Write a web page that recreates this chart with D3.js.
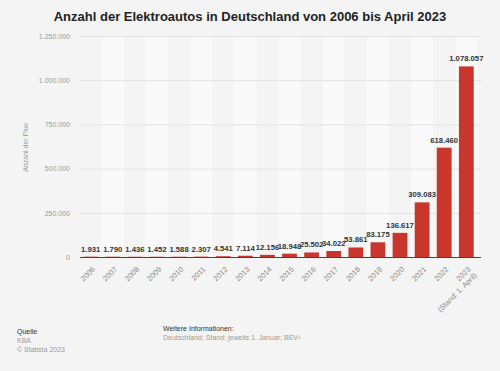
<!DOCTYPE html>
<html>
<head>
<meta charset="utf-8">
<script src="https://cdn.jsdelivr.net/npm/d3@7"></script>
<style>
  html, body { margin: 0; padding: 0; background: #f4f4f4; }
  svg { display: block; font-family: "Liberation Sans", Arial, sans-serif; }
</style>
</head>
<body>
<div id="chart"></div>
<script>
const years = ['2006', '2007', '2008', '2009', '2010', '2011', '2012', '2013', '2014',
  '2015', '2016', '2017', '2018', '2019', '2020', '2021', '2022', '2023'];
const cars = [1931, 1790, 1436, 1452, 1588, 2307, 4541, 7114, 12156,
  18948, 25502, 34022, 53861, 83175, 136617, 309083, 618460, 1078057];
const yTicks = [0, 250000, 500000, 750000, 1000000, 1250000];
const lastNote = '(Stand: 1. April)';

const width = 500, height = 371;
const m = { left: 76, right: 19, top: 36, bottom: 114 };

const de = d3.formatLocale({ decimal: ',', thousands: '.', grouping: [3], currency: ['', ' €'] });
const fmt = de.format(',d');

const svg = d3.select('#chart').append('svg')
  .attr('width', width)
  .attr('height', height);

svg.append('rect').attr('width', width).attr('height', height).attr('fill', '#f4f4f4');

const x = d3.scaleBand()
  .domain(years)
  .range([m.left, width - m.right])
  .padding(0.33);

const y = d3.scaleLinear()
  .domain([0, 1250000])
  .range([height - m.bottom, m.top]);

// alternating column shading
svg.append('g').selectAll('rect')
  .data(years.filter((_, i) => i % 2 === 1))
  .join('rect')
  .attr('x', d => x(d) - x.step() * x.paddingInner() / 2)
  .attr('y', m.top)
  .attr('width', x.step())
  .attr('height', y(0) - m.top)
  .attr('fill', '#f9f9f9');

// grid + y labels
const yAxis = d3.axisLeft(y)
  .tickValues(yTicks)
  .tickSize(-(width - m.right - m.left - 4))
  .tickPadding(10)
  .tickFormat(fmt);

const gY = svg.append('g')
  .attr('transform', `translate(${m.left + 4},0)`)
  .call(yAxis);
gY.select('.domain').remove();
gY.selectAll('line').attr('stroke', '#e2e2e2').attr('stroke-width', 1);
gY.selectAll('text').attr('fill', '#9a9a9a').attr('font-size', 7);

svg.append('text')
  .attr('transform', `translate(28,${(y(0) + m.top) / 2 + 1}) rotate(-90)`)
  .attr('text-anchor', 'middle')
  .attr('fill', '#9a9a9a')
  .attr('font-size', 7)
  .text('Anzahl der Pkw');

// bars
svg.append('g').selectAll('rect')
  .data(cars)
  .join('rect')
  .attr('x', (d, i) => x(years[i]))
  .attr('y', d => y(d))
  .attr('width', x.bandwidth())
  .attr('height', d => y(0) - y(d))
  .attr('fill', '#c9372c');

// value labels
svg.append('g').selectAll('text')
  .data(cars)
  .join('text')
  .attr('x', (d, i) => x(years[i]) + x.bandwidth() / 2)
  .attr('y', d => y(d) - 5)
  .attr('text-anchor', 'middle')
  .attr('font-size', 7.7)
  .attr('font-weight', 'bold')
  .attr('fill', '#333')
  .text(d => fmt(d));

// baseline
svg.append('line')
  .attr('x1', m.left + 4)
  .attr('x2', width - m.right)
  .attr('y1', y(0) + 0.5)
  .attr('y2', y(0) + 0.5)
  .attr('stroke', '#444')
  .attr('stroke-width', 1);

// x labels
const xl = svg.append('g').selectAll('text')
  .data(years)
  .join('text')
  .attr('transform', d => `translate(${x(d) + x.bandwidth() / 2 + 3},${y(0) + 11}) rotate(-45)`)
  .attr('text-anchor', 'end')
  .attr('font-size', 7.5)
  .attr('fill', '#8a8a8a');
xl.append('tspan').attr('x', 0).attr('dy', '0.35em').text(d => d);
xl.filter((d, i) => i === years.length - 1)
  .append('tspan').attr('x', 0).attr('dy', '1.15em').text(lastNote);

// title
svg.append('text')
  .attr('x', 250)
  .attr('y', 21)
  .attr('text-anchor', 'middle')
  .attr('font-size', 13)
  .attr('font-weight', 'bold')
  .attr('fill', '#222')
  .text('Anzahl der Elektroautos in Deutschland von 2006 bis April 2023');

// footer
const foot = svg.append('g').attr('font-size', 7);
foot.append('text').attr('x', 17).attr('y', 334).attr('fill', '#333').text('Quelle');
foot.append('text').attr('x', 17).attr('y', 343).attr('fill', '#9a9a9a').text('KBA');
foot.append('text').attr('x', 17).attr('y', 352).attr('fill', '#9a9a9a').text('© Statista 2023');
foot.append('text').attr('x', 163).attr('y', 331).attr('fill', '#333').text('Weitere Informationen:');
foot.append('text').attr('x', 163).attr('y', 340).attr('fill', '#9a9a9a').text('Deutschland; Stand: jeweils 1. Januar; BEV¹');
</script>
</body>
</html>
